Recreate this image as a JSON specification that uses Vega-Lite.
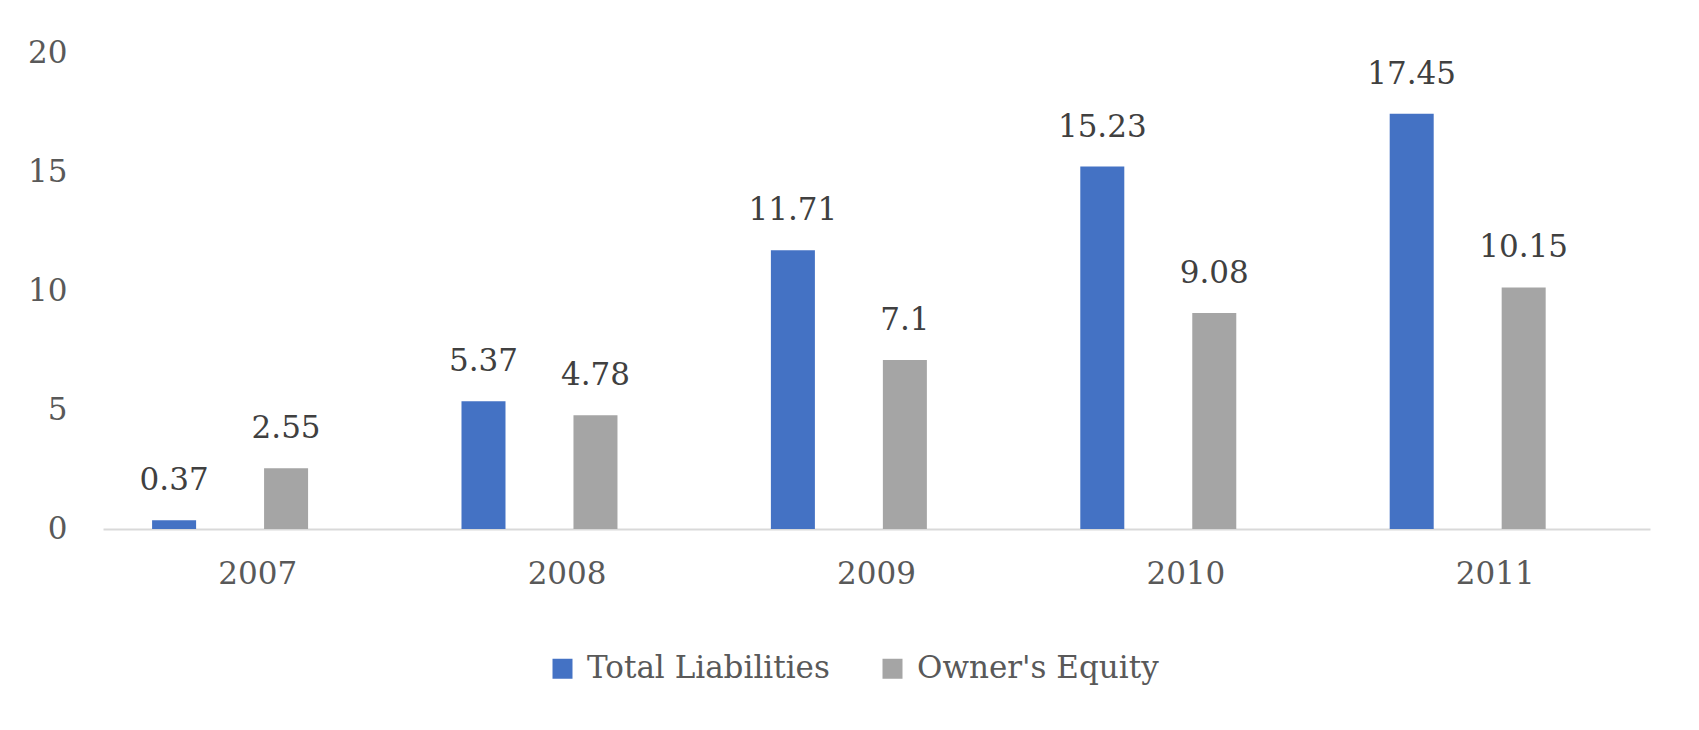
{
  "$schema": "https://vega.github.io/schema/vega-lite/v6.json",
  "autosize": {"type": "none"},
  "width": 1547,
  "height": 476,
  "padding": {"left": 103, "top": 53, "right": 49, "bottom": 201},
  "background": "white",
  "config": {
    "view": {"stroke": null},
    "font": "DejaVu Serif",
    "axis": {"labelFont": "DejaVu Serif", "labelFontSize": 31, "labelColor": "#595959", "grid": false, "ticks": false, "title": null},
    "legend": {"labelFont": "DejaVu Serif", "labelFontSize": 31, "labelColor": "#595959", "labelLimit": 1000}
  },
  "data": {
    "values": [
      {"year": "2007", "series": "Total Liabilities", "value": 0.37},
      {"year": "2007", "series": "Owner's Equity", "value": 2.55},
      {"year": "2008", "series": "Total Liabilities", "value": 5.37},
      {"year": "2008", "series": "Owner's Equity", "value": 4.78},
      {"year": "2009", "series": "Total Liabilities", "value": 11.71},
      {"year": "2009", "series": "Owner's Equity", "value": 7.1},
      {"year": "2010", "series": "Total Liabilities", "value": 15.23},
      {"year": "2010", "series": "Owner's Equity", "value": 9.08},
      {"year": "2011", "series": "Total Liabilities", "value": 17.45},
      {"year": "2011", "series": "Owner's Equity", "value": 10.15}
    ]
  },
  "encoding": {
    "x": {
      "field": "year", "type": "nominal",
      "scale": {"paddingInner": 0, "paddingOuter": 0},
      "axis": {"labelAngle": 0, "domainColor": "#D9D9D9", "domainWidth": 2, "labelPadding": 30}
    },
    "xOffset": {
      "field": "series", "type": "nominal",
      "sort": ["Total Liabilities", "Owner's Equity"],
      "scale": {"domain": ["Total Liabilities", "Owner's Equity"], "paddingInner": 0.607, "paddingOuter": 0.685, "align": 0.32}
    },
    "y": {
      "field": "value", "type": "quantitative",
      "scale": {"domain": [0, 20], "nice": false},
      "axis": {"values": [0, 5, 10, 15, 20], "domain": false, "labelPadding": 36}
    }
  },
  "layer": [
    {
      "mark": {"type": "bar"},
      "encoding": {
        "color": {
          "field": "series", "type": "nominal",
          "scale": {"domain": ["Total Liabilities", "Owner's Equity"], "range": ["#4472C4", "#A5A5A5"]},
          "legend": {
            "title": null, "orient": "none", "direction": "horizontal",
            "legendX": 444, "legendY": 600,
            "symbolType": "square", "symbolSize": 400, "symbolStrokeWidth": 0, "symbolOpacity": 1,
            "labelOffset": 9, "columnPadding": 47
          }
        }
      }
    },
    {
      "mark": {"type": "text", "baseline": "alphabetic", "dy": -30, "fontSize": 31, "color": "#404040", "font": "DejaVu Serif"},
      "encoding": {
        "text": {"field": "value", "type": "quantitative", "format": ".2~f"}
      }
    }
  ]
}
